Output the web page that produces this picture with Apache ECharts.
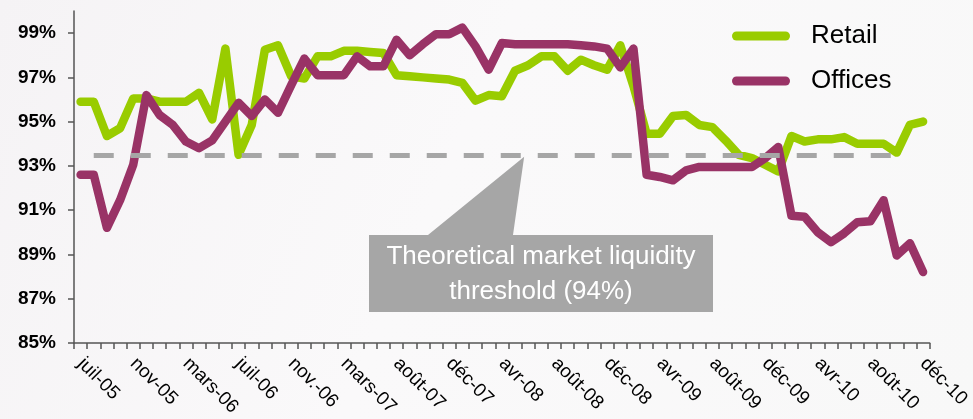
<!DOCTYPE html>
<html>
<head>
<meta charset="utf-8">
<script src="https://cdn.jsdelivr.net/npm/echarts@6/dist/echarts.min.js"></script>
<style>
  html, body { margin: 0; padding: 0; background: #ffffff; }
  #chart { width: 973px; height: 419px; }
</style>
</head>
<body>
<div id="chart"></div>
<script>
// Monthly occupancy rates, July 2005 to December 2010
const months = [
  'juil-05', 'août-05', 'sept-05', 'oct-05', 'nov-05', 'déc-05', 'janv-06', 'févr-06',
  'mars-06', 'avr-06', 'mai-06', 'juin-06', 'juil-06', 'août-06', 'sept-06', 'oct-06',
  'nov.-06', 'déc-06', 'janv-07', 'févr-07', 'mars-07', 'avr-07', 'mai-07', 'juin-07',
  'août-07', 'sept-07', 'oct-07', 'nov-07', 'déc-07', 'janv-08', 'févr-08', 'mars-08',
  'avr-08', 'mai-08', 'juin-08', 'juil-08', 'août-08', 'sept-08', 'oct-08', 'nov-08',
  'déc-08', 'janv-09', 'févr-09', 'mars-09', 'avr-09', 'mai-09', 'juin-09', 'juil-09',
  'août-09', 'sept-09', 'oct-09', 'nov-09', 'déc-09', 'janv-10', 'févr-10', 'mars-10',
  'avr-10', 'mai-10', 'juin-10', 'juil-10', 'août-10', 'sept-10', 'oct-10', 'nov-10',
  'déc-10'
];

const retail = [
  95.9, 95.9, 94.35, 94.7, 96.05, 96.05, 95.9, 95.9, 95.9, 96.3, 95.1, 98.3,
  93.5, 94.85, 98.25, 98.45, 97.05, 96.95, 97.95, 97.95, 98.2, 98.2,
  98.15, 98.1, 97.1, 97.05, 97.0, 96.95, 96.9, 96.75, 95.95, 96.2, 96.15,
  97.3, 97.55, 97.95, 97.95, 97.3, 97.8, 97.55, 97.35, 98.45, 96.6, 94.45,
  94.45, 95.25, 95.3, 94.85, 94.75, 94.15, 93.5, 93.35, 93.05, 92.75, 94.35,
  94.1, 94.2, 94.2, 94.3, 94.0, 94.0, 94.0, 93.6, 94.85, 95.0
];

const offices = [
  92.6, 92.6, 90.2, 91.45, 93.05, 96.2, 95.3, 94.85, 94.1, 93.8, 94.15, 95.0,
  95.85, 95.25, 96.0, 95.4, 96.65, 97.85, 97.1, 97.1, 97.1, 97.95,
  97.5, 97.5, 98.7, 98.0, 98.5, 98.95, 98.95, 99.25, 98.4, 97.35, 98.55,
  98.5, 98.5, 98.5, 98.5, 98.5, 98.45, 98.4, 98.3, 97.45, 98.3, 92.6,
  92.5, 92.35, 92.8, 92.95, 92.95, 92.95, 92.95, 92.95, 93.35, 93.85, 90.75,
  90.7, 90.0, 89.55, 89.95, 90.45, 90.5, 91.45, 88.95, 89.5, 88.2
];

const yTicks = [85, 87, 89, 91, 93, 95, 97, 99];

// Liquidity threshold and the span of months it is drawn across
const threshold = 93.5;
const thresholdFrom = 'août-05';
const thresholdTo = 'oct-10';
const calloutText = 'Theoretical market liquidity\nthreshold (' + Math.round(threshold) + '%)';

const GREEN = '#99CC00';
const PLUM = '#993366';
const GREY = '#A6A6A6';
const AXIS = '#555555';
const FONT = '"Liberation Sans", Arial, sans-serif';

const chart = echarts.init(document.getElementById('chart'), null, { renderer: 'canvas' });

const pill = 'path://M4.5,0H53.5A4.5,4.5,0,0,1,53.5,9H4.5A4.5,4.5,0,0,1,4.5,0Z';

const option = {
  animation: false,
  backgroundColor: {
    type: 'linear', x: 0, y: 0, x2: 1, y2: 1,
    colorStops: [
      { offset: 0, color: '#F5F3F5' },
      { offset: 0.45, color: '#FAF9FA' },
      { offset: 1, color: '#F8F8F8' }
    ]
  },
  textStyle: { fontFamily: FONT },
  grid: { left: 74, right: 43, top: 11, bottom: 76, containLabel: false },
  legend: {
    data: ['Retail', 'Offices'],
    orient: 'vertical',
    left: 727,
    top: 18,
    itemWidth: 58,
    itemHeight: 9,
    itemGap: 19,
    icon: pill,
    textStyle: { fontSize: 26, color: '#000000', fontFamily: FONT, padding: [0, 0, 0, 16] }
  },
  xAxis: {
    type: 'category',
    data: months,
    boundaryGap: true,
    axisLine: { lineStyle: { color: AXIS, width: 1.5 } },
    axisTick: { show: true, interval: 0, length: 6, lineStyle: { color: AXIS, width: 1.5 } },
    axisLabel: {
      interval: 3,
      rotate: -45,
      margin: 18,
      fontSize: 19,
      color: '#000000',
      fontFamily: FONT
    },
    splitLine: { show: false }
  },
  yAxis: {
    type: 'value',
    min: 85,
    max: 100,
    interval: 1,
    axisLine: { show: true, lineStyle: { color: AXIS, width: 1.5 } },
    axisTick: { show: true, length: 6, customValues: yTicks, lineStyle: { color: AXIS, width: 1.5 } },
    axisLabel: {
      customValues: yTicks,
      formatter: v => v + '%',
      fontSize: 19,
      fontWeight: 'bold',
      color: '#000000',
      margin: 18,
      fontFamily: FONT
    },
    splitLine: { show: false }
  },
  series: [
    {
      name: 'threshold',
      type: 'line',
      data: [],
      z: 1,
      silent: true,
      markLine: {
        silent: true,
        symbol: ['none', 'none'],
        label: { show: false },
        lineStyle: { color: GREY, width: 5, type: [20, 17], cap: 'butt' },
        data: [[
          { coord: [thresholdFrom, threshold] },
          { coord: [thresholdTo, threshold] }
        ]]
      }
    },
    {
      name: 'Retail',
      type: 'line',
      data: retail,
      z: 3,
      symbol: 'none',
      color: GREEN,
      lineStyle: { color: GREEN, width: 8.5, cap: 'round', join: 'round' }
    },
    {
      name: 'Offices',
      type: 'line',
      data: offices,
      z: 4,
      symbol: 'none',
      color: PLUM,
      lineStyle: { color: PLUM, width: 8.5, cap: 'round', join: 'round' }
    }
  ]
};

chart.setOption(option);

// Callout box whose pointer touches the threshold line
const tipX = chart.convertToPixel({ xAxisIndex: 0 }, 'juin-08') - 4;
const tipY = chart.convertToPixel({ yAxisIndex: 0 }, threshold) + 2;
const boxTop = 235, boxBottom = 312, boxLeft = 369, boxRight = 713;

chart.setOption({
  graphic: [
    {
      type: 'polygon',
      z: 10,
      shape: {
        points: [
          [tipX, tipY], [428, boxTop], [boxLeft, boxTop], [boxLeft, boxBottom],
          [boxRight, boxBottom], [boxRight, boxTop], [513, boxTop]
        ]
      },
      style: { fill: GREY }
    },
    {
      type: 'text',
      z: 11,
      x: (boxLeft + boxRight) / 2,
      y: (boxTop + boxBottom) / 2 + 1,
      style: {
        text: calloutText,
        fill: '#FFFFFF',
        fontSize: 26,
        lineHeight: 35,
        fontFamily: FONT,
        align: 'center',
        verticalAlign: 'middle'
      }
    }
  ]
});
</script>
</body>
</html>
